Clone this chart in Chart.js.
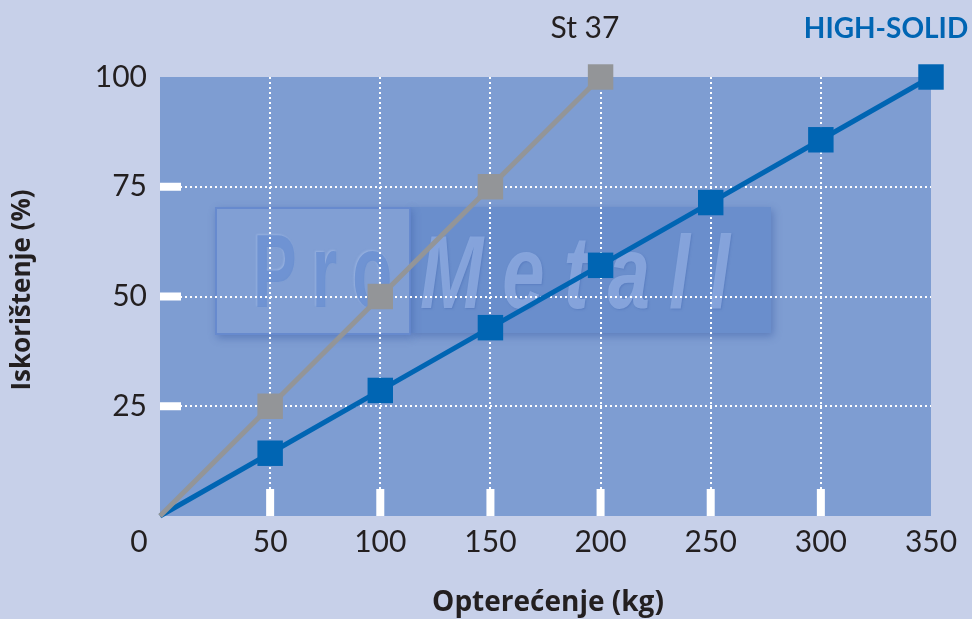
<!DOCTYPE html>
<html>
<head>
<meta charset="utf-8">
<script src="https://cdn.jsdelivr.net/npm/chart.js@4"></script>
<style>
  html, body { margin: 0; padding: 0; background: #c7d0e9; }
  canvas { display: block; }
</style>
</head>
<body>
<canvas id="chart" width="972" height="619"></canvas>
<script>
// Load (kg) against utilisation (%) for two materials
const loadKg = [0, 50, 100, 150, 200, 250, 300, 350];
const st37 = [0, 25, 50, 75, 100];
const highSolid = [0, 14.3, 28.6, 42.9, 57.1, 71.4, 85.7, 100];
const xTicks = [0, 50, 100, 150, 200, 250, 300, 350];
const yTicks = [0, 25, 50, 75, 100];

const PAGE_BG = '#c7d0e9';
const PLOT_BG = '#7e9dd2';
const BLUE = '#0065b3';
const GREY = '#939598';
const TEXT = '#231f20';
const FONT = 'Lato, "Open Sans", sans-serif';
const TITLE_FONT = '"Open Sans", Lato, sans-serif';
const MARK_FONT = '"Liberation Sans", Arial, sans-serif';

const toPoints = (vals) => vals.map((v, i) => ({ x: loadKg[i], y: v }));

// Draws a word squeezed horizontally, with extra space between letters
function squeezedText(ctx, text, x, y, font, scaleX, spacing, fill) {
  ctx.save();
  ctx.translate(x, y);
  ctx.scale(scaleX, 1);
  ctx.font = font;
  ctx.letterSpacing = (spacing / scaleX) + 'px';
  ctx.fillStyle = fill;
  ctx.fillText(text, 0, 0);
  ctx.restore();
}

// Background, watermark, inner tick bars and captions
const decor = {
  id: 'decor',
  beforeDraw(chart) {
    const { ctx, chartArea: a } = chart;
    ctx.save();
    ctx.fillStyle = PAGE_BG;
    ctx.fillRect(0, 0, chart.width, chart.height);
    ctx.fillStyle = PLOT_BG;
    ctx.fillRect(a.left, a.top, a.right - a.left, a.bottom - a.top);

    // watermark plate
    const x0 = 215, x1 = 410, x2 = 771, y0 = 207, y1 = 335;
    ctx.save();
    ctx.shadowColor = 'rgba(50,85,160,0.45)';
    ctx.shadowBlur = 8;
    ctx.shadowOffsetX = 2;
    ctx.shadowOffsetY = 3;
    ctx.fillStyle = '#6a8ecc';
    ctx.fillRect(x1, y0, x2 - x1, y1 - y0 - 2);
    ctx.fillStyle = '#819fd4';
    ctx.fillRect(x0, y0, x1 - x0, y1 - y0);
    ctx.restore();
    ctx.strokeStyle = 'rgba(100,135,205,0.9)';
    ctx.lineWidth = 2;
    ctx.strokeRect(x0 + 1, y0 + 1, x1 - x0 - 1, y1 - y0 - 2);

    ctx.textBaseline = 'alphabetic';
    ctx.textAlign = 'left';
    ctx.save();
    ctx.shadowColor = 'rgba(170,195,235,0.6)';
    ctx.shadowBlur = 2;
    ctx.shadowOffsetX = -1;
    ctx.shadowOffsetY = -1;
    squeezedText(ctx, 'Pro', 253, 307, '700 104px ' + MARK_FONT, 0.63, 15, 'rgba(104,142,208,0.85)');
    ctx.restore();
    ctx.save();
    ctx.shadowColor = 'rgba(80,115,185,0.6)';
    ctx.shadowBlur = 2;
    ctx.shadowOffsetX = 1;
    ctx.shadowOffsetY = 1;
    squeezedText(ctx, 'Metall', 420, 308, 'italic 700 104px ' + MARK_FONT, 0.73, 19, 'rgba(138,167,222,0.9)');
    ctx.restore();
    ctx.restore();
  },
  beforeDatasetsDraw(chart) {
    const { ctx, chartArea: a, scales } = chart;
    ctx.save();
    ctx.fillStyle = '#ffffff';
    yTicks.filter(v => v > 0 && v < 100).forEach(v => {
      const y = scales.y.getPixelForValue(v);
      ctx.fillRect(a.left, y - 4, 21, 8);
    });
    xTicks.filter(v => v > 0 && v < 350).forEach(v => {
      const x = scales.x.getPixelForValue(v);
      ctx.fillRect(x - 4, a.bottom - 27, 8, 27);
    });
    ctx.restore();
  },
  afterDraw(chart) {
    const { ctx } = chart;
    ctx.save();
    ctx.textBaseline = 'middle';
    ctx.textAlign = 'center';
    ctx.fillStyle = TEXT;
    ctx.font = '400 30px ' + FONT;
    ctx.fillText('0', 139, 542);
    ctx.fillText('St 37', 585, 28);
    ctx.fillStyle = BLUE;
    ctx.font = '700 28px ' + FONT;
    ctx.fillText('HIGH-SOLID', 886, 29);

    ctx.fillStyle = TEXT;
    ctx.font = '700 28px ' + TITLE_FONT;
    ctx.fillText('Opterećenje (kg)', 548, 603);
    ctx.font = '700 26px ' + TITLE_FONT;
    ctx.translate(23, 290);
    ctx.rotate(-Math.PI / 2);
    ctx.fillText('Iskorištenje (%)', 0, 0);
    ctx.restore();
  }
};

const gridDots = (hidden) => ({
  color: (c) => (c.tick && hidden.includes(c.tick.value)) ? 'rgba(0,0,0,0)' : '#ffffff',
  lineWidth: 2,
  drawTicks: false,
});

const seriesStyle = (color) => ({
  borderColor: color,
  backgroundColor: color,
  borderWidth: 5,
  pointStyle: 'rect',
  pointRadius: (c) => c.dataIndex === 0 ? 0 : 18,
  pointHoverRadius: (c) => c.dataIndex === 0 ? 0 : 18,
  pointBorderWidth: 0,
  clip: false,
  tension: 0,
});

new Chart(document.getElementById('chart'), {
  type: 'line',
  plugins: [decor],
  data: {
    datasets: [
      { label: 'St 37', data: toPoints(st37), ...seriesStyle(GREY) },
      { label: 'HIGH-SOLID', data: toPoints(highSolid), ...seriesStyle(BLUE) }
    ]
  },
  options: {
    responsive: false,
    animation: false,
    events: [],
    layout: { padding: { top: 77, right: 41, bottom: 0, left: 0 } },
    plugins: { legend: { display: false }, tooltip: { enabled: false } },
    scales: {
      x: {
        type: 'linear',
        min: 0,
        max: 350,
        afterBuildTicks: (s) => { s.ticks = xTicks.map(v => ({ value: v })); },
        afterFit: (s) => { s.height = 103; },
        border: { display: false, dash: [2, 3] },
        grid: gridDots([0, 350]),
        ticks: {
          padding: 8,
          color: TEXT,
          font: { family: FONT, size: 30, weight: '400' },
          callback: (v) => v === 0 ? '' : String(v),
          maxRotation: 0,
        },
      },
      y: {
        min: 0,
        max: 100,
        afterBuildTicks: (s) => { s.ticks = yTicks.map(v => ({ value: v })); },
        afterFit: (s) => { s.width = 160; },
        border: { display: false, dash: [2, 3] },
        grid: gridDots([0, 100]),
        ticks: {
          padding: 13,
          color: TEXT,
          font: { family: FONT, size: 30, weight: '400' },
          callback: (v) => v === 0 ? '' : String(v),
        },
      }
    }
  }
});
</script>
</body>
</html>
